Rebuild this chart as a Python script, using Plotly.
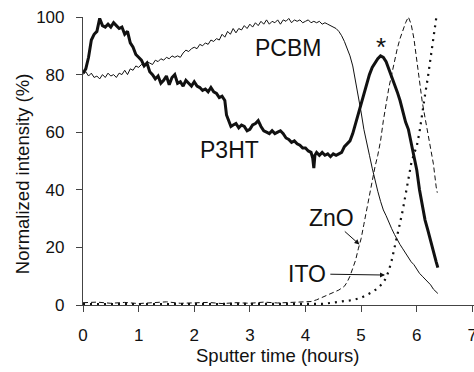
import plotly.graph_objects as go

# ---------------- data ----------------
p3ht_x = [0.00,0.05,0.10,0.15,0.20,0.25,0.30,0.35,0.40,0.45,0.50,0.55,0.60,0.65,0.70,0.75,0.80,0.85,0.90,0.95,
          1.00,1.05,1.10,1.15,1.20,1.25,1.30,1.35,1.40,1.45,1.50,1.55,1.60,1.65,1.70,1.75,1.80,1.85,1.90,1.95,
          2.00,2.05,2.10,2.15,2.20,2.25,2.30,2.35,2.40,2.45,2.50,2.55,2.58,2.62,2.66,2.70,2.75,2.80,2.85,2.90,2.95,
          3.00,3.05,3.10,3.15,3.20,3.25,3.30,3.35,3.40,3.45,3.50,3.55,3.60,3.65,3.70,3.75,3.80,3.85,3.90,3.95,
          4.00,4.05,4.10,4.13,4.15,4.17,4.20,4.25,4.30,4.35,4.40,4.45,4.50,4.55,4.60,4.65,4.70,4.75,4.80,4.85,4.90,4.95,
          5.00,5.05,5.10,5.15,5.20,5.25,5.30,5.35,5.40,5.45,5.50,5.55,5.60,5.65,5.70,5.75,5.80,5.85,5.90,5.95,
          6.00,6.05,6.10,6.15,6.20,6.25,6.30,6.35,6.38]
p3ht_y = [80.5,82,86,92,94,95,99.5,97,96.5,97.5,96.5,98,97,96,96.5,94,95,91,89.5,87,
          86,85,83,84,81,80,78.5,79.5,77,78,79.5,76.5,79,80,77,77.5,76,78,77,76,
          77.5,76,75.5,74.5,75,74,75.5,74,73.5,72,72.5,71,66,64,62,62.5,63,61.5,62.5,62,60.5,
          61,62.5,63,64,62,60.5,60,59.5,60.5,59.5,60,60.5,59.5,58,57.5,56.5,57,56,55.5,54.5,
          54.5,53.5,53,51,47.5,52,53,52,53,52,52.5,51.5,52.5,52,52.5,53,55,56,57,59.5,63,66.5,
          70,73,77,80,82.5,84,85.5,86.5,86,84.5,82,79.5,77,74,71,67,63.5,61,56,52,
          47,40,34,29.5,26,22,18,15,13]

pcbm_x = [0.00,0.05,0.10,0.15,0.20,0.25,0.30,0.35,0.40,0.45,0.50,0.55,0.60,0.65,0.70,0.75,0.80,0.85,0.90,0.95,
          1.00,1.05,1.10,1.15,1.20,1.25,1.30,1.35,1.40,1.45,1.50,1.55,1.60,1.65,1.70,1.75,1.80,1.85,1.90,1.95,
          2.00,2.05,2.10,2.15,2.20,2.25,2.30,2.35,2.40,2.45,2.50,2.55,2.60,2.65,2.70,2.75,2.80,2.85,2.90,2.95,
          3.00,3.05,3.10,3.15,3.20,3.25,3.30,3.35,3.40,3.45,3.50,3.55,3.60,3.65,3.70,3.75,3.80,3.85,3.90,3.95,
          4.00,4.05,4.10,4.15,4.20,4.25,4.30,4.35,4.40,4.45,4.50,4.55,4.60,4.65,4.70,4.75,4.80,4.85,4.90,4.95,
          5.00,5.05,5.10,5.15,5.20,5.25,5.30,5.35,5.40,5.45,5.50,5.55,5.60,5.65,5.70,5.75,5.80,5.85,5.90,5.95,
          6.00,6.05,6.10,6.15,6.20,6.25,6.30,6.35,6.38]
pcbm_y = [80,81,79.5,80.5,79,79.5,78.5,80,79,80.5,79.5,80,79,80.5,80,81.5,80,82,81.5,83,
          82.5,83.5,83,84.5,84,83.5,85,84.5,85.5,85,86,85.5,86.5,86,86.5,86,87.5,88.5,88,89,
          89.5,89,90.5,90,91,90.5,92,91.5,92.5,92,94,93,95,94,96,94.5,96,95.5,97,96,
          97.5,96.5,98,97,98.5,97.5,99,97.5,98.5,98,99,97.5,99,98.5,99.5,98,99,98.5,99,98,
          98.5,99,98,98.5,98,98.5,97.5,98,97.5,97,96.5,96,95,93.5,91.5,89,86.5,83,78,72,
          67,61,56,52,47.5,43,39.5,36,33,31,28.5,26.5,24.5,22.5,21,19.5,18,16.5,15,14,
          12.5,11,10,9,8,7,5.5,4.5,4]

zno_x = [0.00,0.25,0.50,0.75,1.00,1.25,1.50,1.75,2.00,2.25,2.50,2.75,3.00,3.25,3.50,3.75,4.00,
         4.10,4.20,4.30,4.40,4.50,4.60,4.70,4.75,4.80,4.85,4.90,4.95,5.00,5.05,5.10,5.15,5.20,5.25,
         5.30,5.35,5.40,5.45,5.50,5.55,5.60,5.65,5.70,5.75,5.80,5.85,5.90,5.95,6.00,6.05,6.10,6.15,
         6.20,6.25,6.30,6.35,6.37]
zno_y = [0.8,1.0,0.6,0.9,0.5,0.8,1.1,0.6,0.7,0.9,0.5,0.8,0.6,1.0,0.7,0.9,1.0,
         1.2,1.8,2.6,3.5,4.3,5.2,6.5,8,10,12.5,15.5,19.5,23,28,33,38.5,43.5,48,
         52,57,64,70.5,75.5,80,85,89,92.5,95.5,98,100,97.5,92.5,85,77,70.5,65,
         60,55,49,41,39]

ito_x = [0.00,0.50,1.00,1.50,2.00,2.50,3.00,3.50,4.00,4.30,4.40,4.50,4.60,4.70,4.80,4.90,5.00,
         5.10,5.20,5.30,5.40,5.45,5.50,5.55,5.60,5.65,5.70,5.75,5.80,5.85,5.90,5.95,6.00,6.05,
         6.10,6.15,6.20,6.25,6.30,6.35]
ito_y = [0.3,0.3,0.3,0.3,0.3,0.3,0.3,0.3,0.3,0.4,0.6,0.8,1.0,1.2,1.6,2.0,2.5,
         3.5,4.5,5.8,7.8,9.5,12,15.5,19.5,24,28.5,33,38,44,49,52.5,55,60,
         67,73,79,86.5,94,99.5]

x_ticks = [0, 1, 2, 3, 4, 5, 6, 7]
y_ticks = [0, 20, 40, 60, 80, 100]

FONT = "Liberation Sans, Arial, sans-serif"
INK = "#111111"
AX = "#444444"

fig = go.Figure()
fig.add_trace(go.Scatter(x=pcbm_x, y=pcbm_y, mode="lines", line=dict(color=INK, width=1)))
fig.add_trace(go.Scatter(x=zno_x, y=zno_y, mode="lines", line=dict(color=INK, width=1, dash="5px,3px")))
fig.add_trace(go.Scatter(x=ito_x, y=ito_y, mode="lines", line=dict(color=INK, width=2.2, dash="2px,5px")))
fig.add_trace(go.Scatter(x=p3ht_x, y=p3ht_y, mode="lines", line=dict(color=INK, width=3)))

ann = [
    dict(x=3.69, y=89.4, text="PCBM", showarrow=False, font=dict(size=23)),
    dict(x=2.63, y=53.8, text="P3HT", showarrow=False, font=dict(size=23)),
    dict(x=5.36, y=89.5, text="*", showarrow=False, font=dict(size=26)),
    dict(x=4.46, y=30.1, text="ZnO", showarrow=False, font=dict(size=23)),
    dict(x=4.02, y=10.8, text="ITO", showarrow=False, font=dict(size=23)),
    dict(x=4.97, y=21, ax=4.68, ay=26, axref="x", ayref="y", text="", showarrow=True,
         arrowhead=2, arrowsize=1, arrowwidth=1, arrowcolor=INK),
    dict(x=5.43, y=10.4, ax=4.42, ay=10.7, axref="x", ayref="y", text="", showarrow=True,
         arrowhead=2, arrowsize=1, arrowwidth=1, arrowcolor=INK),
    dict(xref="paper", yref="paper", x=0.4975, y=-0.176, text="Sputter time (hours)", showarrow=False,
         font=dict(size=18.5), xanchor="center", yanchor="middle"),
    dict(xref="paper", yref="paper", x=-0.153, y=0.455, text="Normalized intensity (%)", showarrow=False,
         font=dict(size=18.5), textangle=-90, xanchor="center", yanchor="middle"),
]

fig.update_layout(
    width=474, height=372,
    margin=dict(l=83, r=0, t=17, b=67),
    paper_bgcolor="white", plot_bgcolor="white",
    showlegend=False,
    font=dict(family=FONT, color=INK, size=17),
    annotations=ann,
    xaxis=dict(range=[0, 7.03], tickvals=x_ticks, ticktext=[str(v) for v in x_ticks],
               showline=True, linecolor=AX, linewidth=1.2, ticks="outside", ticklen=6,
               tickcolor=AX, showgrid=False, zeroline=False, automargin=False,
               ticklabelstandoff=8, ticklabeloverflow="allow", tickfont=dict(size=17)),
    yaxis=dict(range=[0, 100], tickvals=y_ticks, ticktext=[str(v) for v in y_ticks],
               showline=True, linecolor=AX, linewidth=1.2, ticks="outside", ticklen=6,
               tickcolor=AX, showgrid=False, zeroline=False, automargin=False,
               ticklabelstandoff=8, tickfont=dict(size=17)),
)

fig.write_html("out.html")
